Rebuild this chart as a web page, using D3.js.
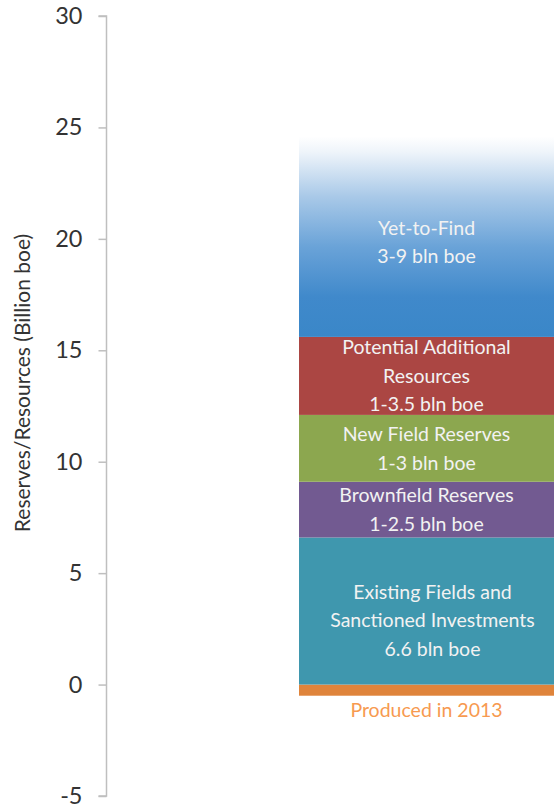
<!DOCTYPE html>
<html>
<head>
<meta charset="utf-8">
<script src="https://cdn.jsdelivr.net/npm/d3@7"></script>
<style>
  html, body { margin: 0; padding: 0; background: #fff; }
  svg { display: block; }
  text { font-family: "Lato", "Open Sans", sans-serif; }
</style>
</head>
<body>
<svg id="chart" width="554" height="805"></svg>
<script>
// Stacked resource categories (billion boe), bottom to top
const categories = [
  "Existing Fields and Sanctioned Investments",
  "Brownfield Reserves",
  "New Field Reserves",
  "Potential Additional Resources",
  "Yet-to-Find"
];
const values = [6.6, 2.5, 3, 3.5, 9];
const labels = [
  ["Existing Fields and", "Sanctioned Investments", "6.6 bln boe"],
  ["Brownfield Reserves", "1-2.5 bln boe"],
  ["New Field Reserves", "1-3 bln boe"],
  ["Potential Additional", "Resources", "1-3.5 bln boe"],
  ["Yet-to-Find", "3-9 bln boe"]
];
const colors = ["#3f97ae", "#725a91", "#8ca74f", "#ab4643", "url(#ytfGrad)"];

// Volume already produced, drawn below zero
const produced = -0.5;
const producedLabel = "Produced in 2013";

const yTicks = [-5, 0, 5, 10, 15, 20, 25, 30];
const yTitle = "Reserves/Resources (Billion boe)";

const svg = d3.select("#chart");
const y = d3.scaleLinear().domain([-5, 30]).range([796, 16]);
const x = d3.scaleBand().domain(["2013"]).range([299, 554]).padding(0);

// Gradient for the uncertain top segment
const defs = svg.append("defs");
const grad = defs.append("linearGradient")
  .attr("id", "ytfGrad").attr("x1", 0).attr("y1", 0).attr("x2", 0).attr("y2", 1);
[[0, "#ffffff"], [0.08, "#eef4fa"], [0.3, "#a9c9e8"], [0.55, "#6aa3d8"], [0.8, "#4089cb"], [1, "#3a87c8"]]
  .forEach(([o, c]) => grad.append("stop").attr("offset", o).attr("stop-color", c));

// Axis
const axis = d3.axisLeft(y).tickValues(yTicks).tickSize(8).tickPadding(16)
  .tickFormat(d => String(d));
const gAxis = svg.append("g").attr("transform", "translate(106.5,0)").call(axis);
gAxis.select(".domain").attr("stroke", "#bfbfbf").attr("stroke-width", 1.5)
  .attr("d", `M-8,${y(30)}H0V${y(-5)}H-8`);
gAxis.selectAll(".tick line").attr("stroke", "#bfbfbf").attr("stroke-width", 1.5);
gAxis.selectAll(".tick text")
  .attr("fill", "#333").attr("font-size", 23.5)
  .style("font-family", "Lato, 'Open Sans', sans-serif");

svg.append("text")
  .attr("transform", `translate(30,${383}) rotate(-90)`)
  .attr("text-anchor", "middle")
  .attr("fill", "#333").attr("font-size", 21)
  .text(yTitle);

// Stack segments
let cum = 0;
const segs = values.map((v, i) => {
  const s = { i, y0: cum, y1: cum + v };
  cum += v;
  return s;
});

const bw = x.bandwidth();
const x0 = x("2013");

svg.append("rect")
  .attr("x", x0).attr("width", bw)
  .attr("y", y(0)).attr("height", y(produced) - y(0))
  .attr("fill", "#df843b");

svg.selectAll("rect.seg").data(segs).enter().append("rect")
  .attr("class", "seg")
  .attr("x", x0).attr("width", bw)
  .attr("y", d => y(d.y1))
  .attr("height", d => y(d.y0) - y(d.y1))
  .attr("fill", d => colors[d.i]);

// Segment labels
const lineH = 28.5;
const cx = x0 + bw / 2;
const midShift = [9, 0, 0, 0, 0];
const xShift = [6, 0, 0, 0, 0];
segs.forEach(d => {
  const lines = labels[d.i];
  let mid = (y(d.y0) + y(d.y1)) / 2 + midShift[d.i];
  if (d.i === 4) mid = 242;
  const t = svg.append("text")
    .attr("text-anchor", "middle")
    .attr("fill", "#f2f2f2")
    .attr("font-size", 19.5);
  lines.forEach((l, k) => {
    t.append("tspan")
      .attr("x", cx + xShift[d.i])
      .attr("y", mid + (k - (lines.length - 1) / 2) * lineH + 7)
      .text(l);
  });
});

svg.append("text")
  .attr("x", cx).attr("y", y(produced) + 21)
  .attr("text-anchor", "middle")
  .attr("fill", "#f79a50").attr("font-size", 19.5)
  .text(producedLabel);
</script>
</body>
</html>
